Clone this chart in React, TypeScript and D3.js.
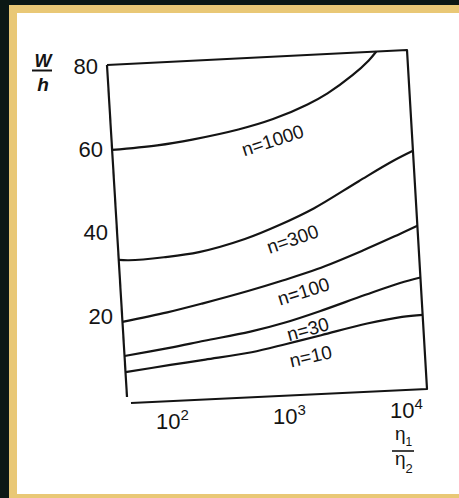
import React from "react";
import * as d3 from "d3";

// ---- data ----
const ratioTicks = [100, 1000, 10000];
const ratioTickExp = ["2", "3", "4"];
const whTicks = [20, 40, 60, 80];

const curveNames = ["n=10", "n=30", "n=100", "n=300", "n=1000"];

const ratioN10 = [41, 100, 200, 500, 1000, 2000, 5000, 10000, 15000];
const whN10 = [6.2, 7.6, 8.6, 10.0, 11.7, 13.5, 15.9, 17.2, 17.5];

const ratioN30 = [41, 100, 200, 500, 1000, 2000, 5000, 10000, 15000];
const whN30 = [10.1, 11.7, 13.1, 14.9, 16.8, 19.2, 22.7, 25.2, 26.3];

const ratioN100 = [41, 100, 200, 500, 1000, 2000, 5000, 10000, 15000];
const whN100 = [18.3, 20.2, 22.0, 24.6, 26.8, 29.2, 33.2, 36.5, 38.5];

const ratioN300 = [41, 50, 100, 200, 500, 1000, 2000, 5000, 10000, 15000];
const whN300 = [33.2, 33.0, 33.4, 34.3, 37.0, 40.0, 43.6, 49.6, 54.0, 56.2];

const ratioN1000 = [41, 100, 200, 500, 1000, 2000, 3000, 5000, 7000, 8200];
const whN1000 = [59.6, 60.2, 61.2, 63.1, 65.2, 68.3, 70.7, 74.7, 78.0, 80];

const labelRatio = [1585, 1549, 1486, 1274, 966];
const labelWh = [8.65, 15.1, 24.1, 36.6, 60.2];

// ---- layout / style ----
const W = 459;
const H = 498;
const TL: [number, number] = [107, 65];
const TR: [number, number] = [407, 50];
const BR: [number, number] = [427, 389];
const BL: [number, number] = [127, 398];
const AXIS_START: [number, number] = [131, 403];
const labelAngles = [-13, -15.5, -17.5, -19, -18];
const FONT = "'Liberation Sans', Arial, sans-serif";
const INK = "#141414";

const xScale = d3.scaleLog().domain([41, 15000]).range([0, 1]);
const yScale = d3.scaleLinear().domain([0, 80]).range([0, 1]);

function project(x: number, y: number): [number, number] {
  const u = xScale(x);
  const v = yScale(y);
  const bx = BL[0] + (BR[0] - BL[0]) * u;
  const by = BL[1] + (BR[1] - BL[1]) * u;
  const tx = TL[0] + (TR[0] - TL[0]) * u;
  const ty = TL[1] + (TR[1] - TL[1]) * u;
  return [bx + (tx - bx) * v, by + (ty - by) * v];
}

function axisLineY(x: number) {
  const t = (x - AXIS_START[0]) / (BR[0] - AXIS_START[0]);
  return AXIS_START[1] + (BR[1] - AXIS_START[1]) * t;
}

const series = [
  { xs: ratioN10, ys: whN10 },
  { xs: ratioN30, ys: whN30 },
  { xs: ratioN100, ys: whN100 },
  { xs: ratioN300, ys: whN300 },
  { xs: ratioN1000, ys: whN1000 },
];

const line = d3
  .line<[number, number]>()
  .x((d) => d[0])
  .y((d) => d[1])
  .curve(d3.curveCatmullRom.alpha(0.5));

export default function App() {
  const frameTop = `M${TL[0]},${TL[1]}L${TR[0]},${TR[1]}L${BR[0]},${BR[1]}L${AXIS_START[0]},${AXIS_START[1]}`;
  const frameLeft = `M${TL[0]},${TL[1]}L${BL[0]},${BL[1] - 1}`;
  return (
    <svg
      width={W}
      height={H}
      style={{ position: "absolute", left: 0, top: 0 }}
      fontFamily={FONT}
    >
      <rect x={0} y={0} width={W} height={H} fill="#0c1815" />
      <rect x={9} y={5} width={W} height={H} fill="#e9c876" />
      <rect x={17} y={13} width={W} height={481} fill="#ffffff" />

      {/* frame */}
      <path d={frameTop} fill="none" stroke={INK} strokeWidth={2.2} strokeLinejoin="round" />
      <path d={frameLeft} fill="none" stroke={INK} strokeWidth={2.2} />

      {/* curves */}
      {series.map((s, i) => {
        const pts = s.xs.map((x, j) => project(x, s.ys[j]));
        return (
          <path key={curveNames[i]} d={line(pts) || ""} fill="none" stroke={INK} strokeWidth={2.2} />
        );
      })}

      {/* curve labels */}
      {curveNames.map((name, i) => {
        const [lx, ly] = project(labelRatio[i], labelWh[i]);
        return (
          <text
            key={name}
            x={lx}
            y={ly}
            dy="0.36em"
            textAnchor="middle"
            fontSize={19}
            fill={INK}
            transform={`rotate(${labelAngles[i]},${lx},${ly})`}
          >
            {name}
          </text>
        );
      })}

      {/* y tick labels */}
      {whTicks.map((t) => {
        const [px, py] = project(41, t);
        return (
          <text key={t} x={px - 9} y={py + 1} dy="0.36em" textAnchor="end" fontSize={22} fill={INK}>
            {t}
          </text>
        );
      })}

      {/* x tick labels */}
      {ratioTicks.map((t, i) => {
        const [px] = project(t, 0);
        const by = axisLineY(px) + 28;
        return (
          <text key={t} x={px} y={by} textAnchor="middle" fontSize={22} fill={INK}>
            10
            <tspan fontSize={15} dy={-9}>
              {ratioTickExp[i]}
            </tspan>
          </text>
        );
      })}

      {/* y axis title W/h */}
      <text x={43} y={67} textAnchor="middle" fontSize={18} fontWeight="bold" fontStyle="italic" fill={INK}>
        W
      </text>
      <line x1={32} x2={52} y1={70.5} y2={70.5} stroke={INK} strokeWidth={2} />
      <text x={43} y={91} textAnchor="middle" fontSize={19} fontWeight="bold" fontStyle="italic" fill={INK}>
        h
      </text>

      {/* x axis title η1/η2 */}
      <text x={395} y={440} fontSize={19} fill={INK}>
        η
        <tspan fontSize={12} dy={6}>1</tspan>
      </text>
      <line x1={392} x2={414} y1={451} y2={451} stroke={INK} strokeWidth={1.6} />
      <text x={395} y={465} fontSize={19} fill={INK}>
        η
        <tspan fontSize={13} dy={8}>2</tspan>
      </text>
    </svg>
  );
}
